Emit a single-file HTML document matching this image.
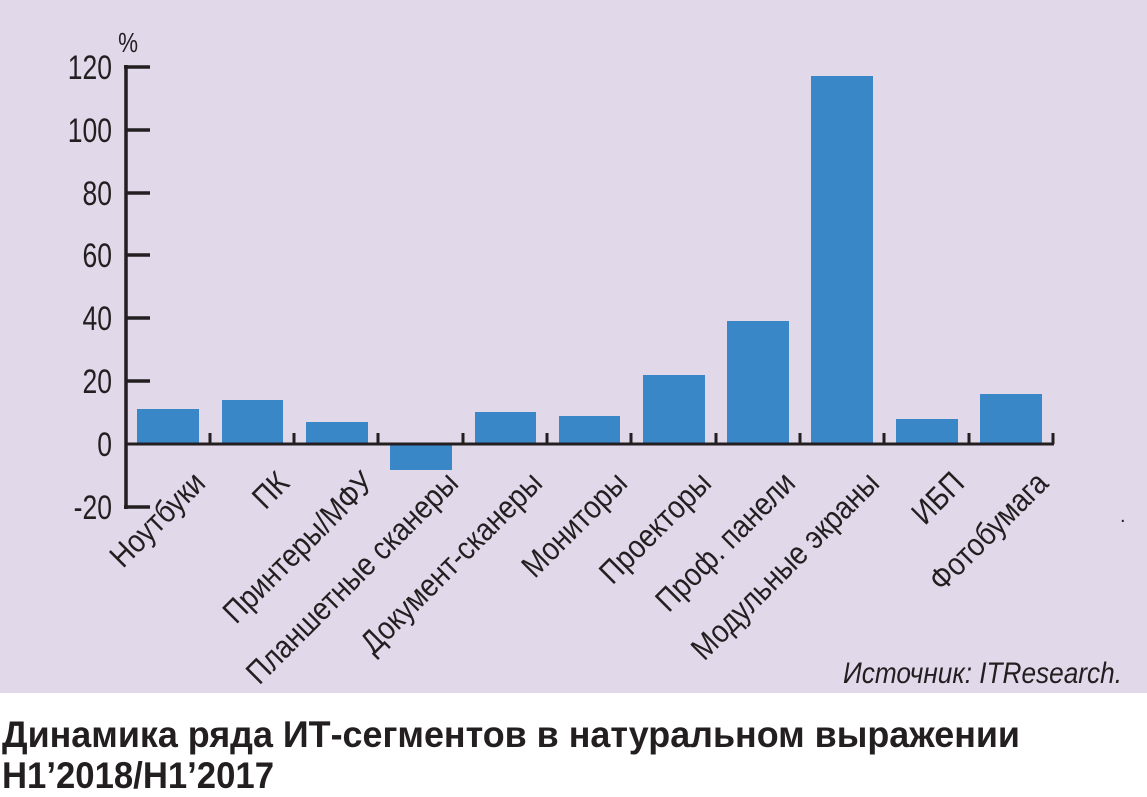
<!DOCTYPE html>
<html><head><meta charset="utf-8"><style>
body{margin:0;background:#fff;}
svg{display:block}
</style></head><body>
<svg width="1147" height="797" xmlns="http://www.w3.org/2000/svg" font-family="'Liberation Sans',sans-serif">
<rect x="0" y="0" width="1147" height="693" fill="#e1d8ea"/>
<g fill="#3a87c8">
<rect x="137" y="409" width="62" height="35"/>
<rect x="222" y="400" width="61" height="44"/>
<rect x="306" y="422" width="62" height="22"/>
<rect x="390" y="444" width="62" height="26"/>
<rect x="475" y="412" width="61" height="32"/>
<rect x="559" y="416" width="61" height="28"/>
<rect x="643" y="375" width="62" height="69"/>
<rect x="727" y="321" width="62" height="123"/>
<rect x="811" y="76" width="62" height="368"/>
<rect x="896" y="419" width="62" height="25"/>
<rect x="980" y="394" width="62" height="50"/>
</g>
<g stroke="#231f20" stroke-width="3.5" fill="none">
<line x1="126" y1="65" x2="126" y2="509"/>
<line x1="124" y1="67" x2="150" y2="67"/>
<line x1="126" y1="130" x2="150" y2="130"/>
<line x1="126" y1="193" x2="150" y2="193"/>
<line x1="126" y1="255" x2="150" y2="255"/>
<line x1="126" y1="318" x2="150" y2="318"/>
<line x1="126" y1="381" x2="150" y2="381"/>
<line x1="124" y1="507" x2="150" y2="507"/>
<line x1="126" y1="444" x2="1054" y2="444" stroke-width="3"/>
<g stroke-width="3">
<line x1="210" y1="433" x2="210" y2="444"/><line x1="294" y1="433" x2="294" y2="444"/>
<line x1="378" y1="433" x2="378" y2="444"/><line x1="463" y1="433" x2="463" y2="444"/>
<line x1="547" y1="433" x2="547" y2="444"/><line x1="631" y1="433" x2="631" y2="444"/>
<line x1="716" y1="433" x2="716" y2="444"/><line x1="800" y1="433" x2="800" y2="444"/>
<line x1="884" y1="433" x2="884" y2="444"/><line x1="969" y1="433" x2="969" y2="444"/>
<line x1="1053" y1="433" x2="1053" y2="444"/>
</g>
</g>
<g fill="#231f20" font-size="34" text-anchor="end">
<text transform="translate(112,79) scale(0.78,1)">120</text>
<text transform="translate(112,142) scale(0.78,1)">100</text>
<text transform="translate(112,205) scale(0.78,1)">80</text>
<text transform="translate(112,267) scale(0.78,1)">60</text>
<text transform="translate(112,330) scale(0.78,1)">40</text>
<text transform="translate(112,393) scale(0.78,1)">20</text>
<text transform="translate(112,456) scale(0.78,1)">0</text>
<text transform="translate(112,519) scale(0.78,1)">-20</text>
<text transform="translate(138,52) scale(0.8,1)" font-size="28">%</text>
</g>
<g fill="#231f20" font-size="32" text-anchor="end">
<text transform="translate(207,485) rotate(-45) scale(0.87,1)">Ноутбуки</text>
<text transform="translate(291,485) rotate(-45) scale(0.87,1)">ПК</text>
<text transform="translate(376,485) rotate(-45) scale(0.87,1)">Принтеры/МФУ</text>
<text transform="translate(460,485) rotate(-45) scale(0.87,1)">Планшетные сканеры</text>
<text transform="translate(544,485) rotate(-45) scale(0.87,1)">Документ-сканеры</text>
<text transform="translate(629,485) rotate(-45) scale(0.87,1)">Мониторы</text>
<text transform="translate(713,485) rotate(-45) scale(0.87,1)">Проекторы</text>
<text transform="translate(797,485) rotate(-45) scale(0.87,1)">Проф. панели</text>
<text transform="translate(881,485) rotate(-45) scale(0.87,1)">Модульные экраны</text>
<text transform="translate(966,485) rotate(-45) scale(0.87,1)">ИБП</text>
<text transform="translate(1050,485) rotate(-45) scale(0.87,1)">Фотобумага</text>
</g>
<text x="1120" y="522" font-size="20" fill="#231f20">.</text>
<text x="843" y="683" font-size="30" font-style="italic" fill="#231f20" textLength="279" lengthAdjust="spacingAndGlyphs">Источник: ITResearch.</text>
<text x="2" y="747" font-size="37" font-weight="bold" fill="#231f20" textLength="1018" lengthAdjust="spacingAndGlyphs">Динамика ряда ИТ-сегментов в натуральном выражении</text>
<text x="2" y="788" font-size="37" font-weight="bold" fill="#231f20" textLength="272" lengthAdjust="spacingAndGlyphs">H1’2018/H1’2017</text>
</svg>
</body></html>
